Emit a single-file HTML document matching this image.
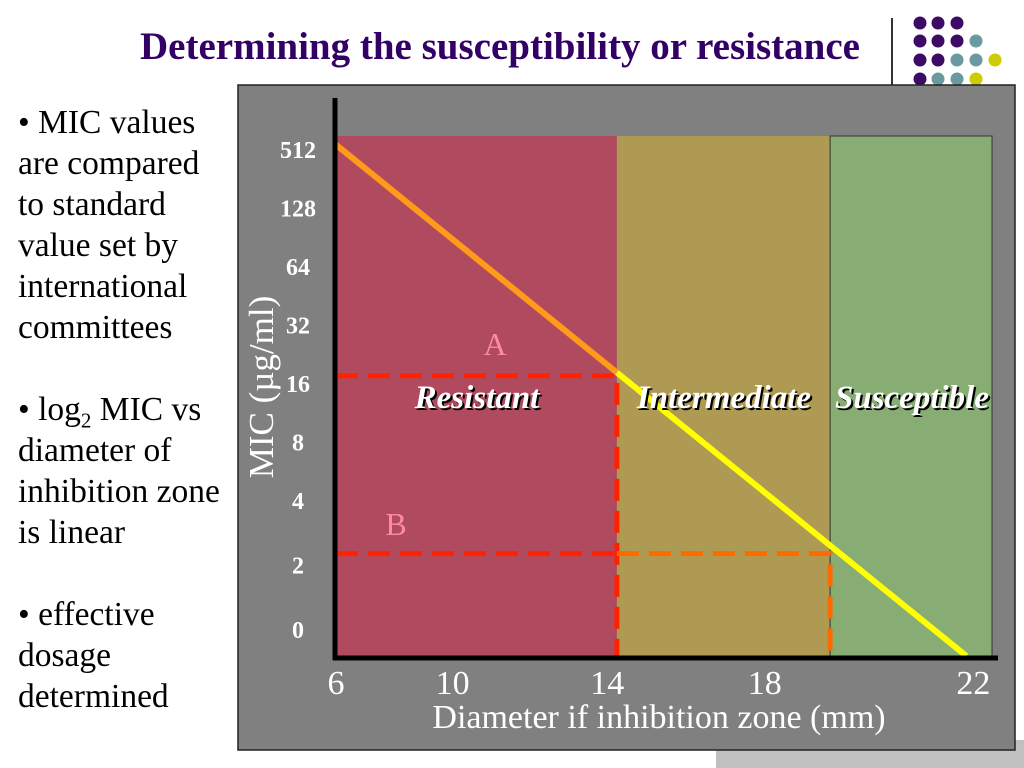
<!DOCTYPE html>
<html><head><meta charset="utf-8"><style>
body{margin:0;width:1024px;height:768px;background:#fff;position:relative;overflow:hidden;font-family:"Liberation Serif",serif}
.abs{position:absolute}
</style></head><body>
<div class="abs" style="left:0;width:1000px;top:25px;text-align:center;font-weight:bold;font-size:39px;line-height:44px;color:#330066;white-space:nowrap">Determining the susceptibility or resistance</div>
<div class="abs" style="left:891px;top:18px;width:2px;height:68px;background:#333"></div>
<svg class="abs" style="left:900px;top:8px" width="124" height="90">
<g fill="#3d0a66"><circle cx="20" cy="15" r="6.5"/><circle cx="38" cy="15" r="6.5"/><circle cx="57" cy="15" r="6.5"/>
<circle cx="20" cy="33" r="6.5"/><circle cx="38" cy="33" r="6.5"/><circle cx="57" cy="33" r="6.5"/>
<circle cx="20" cy="52" r="6.5"/><circle cx="38" cy="52" r="6.5"/><circle cx="20" cy="71" r="6.5"/></g>
<g fill="#6a9aa0"><circle cx="76" cy="33" r="6.5"/><circle cx="57" cy="52" r="6.5"/><circle cx="76" cy="52" r="6.5"/><circle cx="38" cy="71" r="6.5"/><circle cx="57" cy="71" r="6.5"/></g>
<g fill="#cccc00"><circle cx="95" cy="52" r="6.5"/><circle cx="76" cy="71" r="6.5"/></g>
</svg>
<div class="abs" style="left:716px;top:740px;width:308px;height:28px;background:#c0c0c0"></div>
<div class="abs" style="left:18px;top:102px;font-size:33.5px;line-height:41px;color:#000;white-space:nowrap">
<div>• MIC values</div><div>are compared</div><div>to standard</div><div>value set by</div><div>international</div><div>committees</div><div style="height:41px"></div><div>• log<sub style="font-size:21px;line-height:0">2</sub> MIC vs</div><div>diameter of</div><div>inhibition zone</div><div>is linear</div><div style="height:41px"></div><div>• effective</div><div>dosage</div><div>determined</div></div>
<svg class="abs" style="left:0;top:0" width="1024" height="768" id="chart"></svg>
<script>
const xTicks=[6,10,14,18,22];
const yTickLabels=["512","128","64","32","16","8","4","2","0"];
const lineStart=[6,-0.09];
const lineEnd=[22,8.65];
const bounds=[6,13.13,18.54,22.65];
const zoneNames=["Resistant","Intermediate","Susceptible"];
const pointA=[13.13,3.86];
const pointB=[18.54,6.9];
const NS="http://www.w3.org/2000/svg",svg=document.getElementById('chart');
const X=v=>336+(v-6)*39.4, Y=i=>150+i*58.5;
function el(t,a,txt){const e=document.createElementNS(NS,t);for(const k in a)e.setAttribute(k,a[k]);if(txt!=null)e.textContent=txt;svg.appendChild(e);return e;}
let p=el('rect',{x:238,y:85,width:777,height:665,fill:'#808080',stroke:'#222','stroke-width':1.5});


const cols=['#b04a5e','#ae9a52','#88ad74'];
for(let i=0;i<3;i++){
 let r=el('rect',{x:X(bounds[i]),y:136,width:X(bounds[i+1])-X(bounds[i]),height:520,fill:cols[i],stroke:i==2?'#333':'none'});
 
 
}
const dash={stroke:'#ff2200','stroke-width':5,'stroke-dasharray':'22 10',fill:'none'};
let d1=el('path',Object.assign({d:`M${X(6)},${Y(pointA[1])}H${X(pointA[0])}V656`},dash));


let d2=el('path',Object.assign({d:`M${X(6)},${Y(pointB[1])}H${X(pointA[0])}`},dash));


let d3=el('path',Object.assign({d:`M${X(pointA[0])},${Y(pointB[1])}H${X(pointB[0])}V656`},dash,{stroke:'#ff6a00'}));


const x0=X(lineStart[0]),y0=Y(lineStart[1]),x1=X(lineEnd[0]),y1=Y(lineEnd[1]);
const xm=X(bounds[1]),ym=y0+(y1-y0)*(xm-x0)/(x1-x0);
let l1=el('line',{x1:x0,y1:y0,x2:xm,y2:ym,stroke:'#ff9a1a','stroke-width':6});


let l2=el('line',{x1:xm,y1:ym,x2:x1,y2:y1,stroke:'#ffff00','stroke-width':6});


let ya=el('line',{x1:335,y1:98,x2:335,y2:660,stroke:'#000','stroke-width':5});


let xa=el('line',{x1:333,y1:658,x2:998,y2:658,stroke:'#000','stroke-width':5});


yTickLabels.forEach((t,i)=>{let e=el('text',{x:298,y:Y(i)+8+(i>=7?(i-6)*6:0),'text-anchor':'middle','font-size':24,'font-weight':'bold',fill:'#fff'},t);
 
 });
const xLabOffset=[0,-41,-44,-44,7];
xTicks.forEach((t,i)=>{let e=el('text',{x:X(t)+xLabOffset[i],y:694,'text-anchor':'middle','font-size':34,fill:'#fff'},t);
 
 });
let xt=el('text',{x:659,y:728,'text-anchor':'middle','font-size':34,fill:'#fff'},'Diameter if inhibition zone (mm)');


let yt=el('text',{x:0,y:0,transform:'translate(273,387) rotate(-90)','text-anchor':'middle','font-size':35,fill:'#fff'},'MIC  (µg/ml)');


const zx=[477,724,912];
zoneNames.forEach((n,i)=>{
 el('text',{x:zx[i]+2,y:410,'text-anchor':'middle','font-size':33,'font-weight':'bold','font-style':'italic',fill:'#000'},n);
 let e=el('text',{x:zx[i],y:408,'text-anchor':'middle','font-size':33,'font-weight':'bold','font-style':'italic',fill:'#fff'},n);
 
 
});
let la=el('text',{x:495,y:355,'text-anchor':'middle','font-size':32,fill:'#ff8aa0'},'A');


let lb=el('text',{x:396,y:535,'text-anchor':'middle','font-size':32,fill:'#ff8aa0'},'B');


</script>
</body></html>
